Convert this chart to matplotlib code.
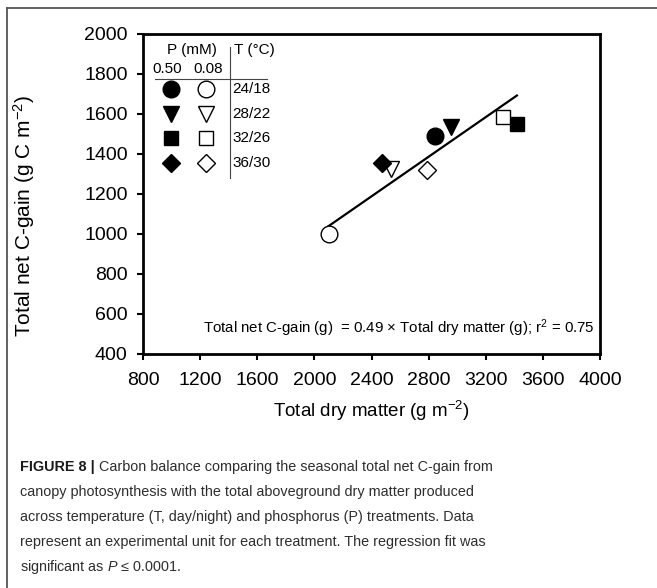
import numpy as np
import matplotlib
matplotlib.use("Agg")
import matplotlib.pyplot as plt
from matplotlib.lines import Line2D
from matplotlib import font_manager

plt.rcParams['font.family'] = ['Liberation Sans', 'DejaVu Sans']
plt.rcParams['mathtext.fontset'] = 'custom'
plt.rcParams['mathtext.rm'] = 'Liberation Sans'
plt.rcParams['mathtext.it'] = 'Liberation Sans:italic'

# treatments: day/night temperature, marker per temperature
temps = ['24/18', '28/22', '32/26', '36/30']
markers = ['o', 'v', 's', 'D']
marker_sizes = [12, 12, 10.5, 9.5]

# P = 0.50 mM (filled)
dm_high = [2845, 2960, 3418, 2472]
cg_high = [1491, 1533, 1550, 1353]
# P = 0.08 mM (open)
dm_low = [2100, 2535, 3324, 2787]
cg_low = [1000, 1326, 1587, 1320]

xticks = [800, 1200, 1600, 2000, 2400, 2800, 3200, 3600, 4000]
yticks = [400, 600, 800, 1000, 1200, 1400, 1600, 1800, 2000]

caption_lines = [
    "Carbon balance comparing the seasonal total net C-gain from",
    "canopy photosynthesis with the total aboveground dry matter produced",
    "across temperature (T, day/night) and phosphorus (P) treatments. Data",
    "represent an experimental unit for each treatment. The regression fit was",
    "significant as $P$ \u2264 0.0001.",
]

W, H = 657, 588
fig = plt.figure(figsize=(W / 100, H / 100), dpi=100)
ax = fig.add_axes([143 / W, 1 - 354 / H, 457 / W, 320 / H])

for i in range(4):
    ax.plot(dm_high[i], cg_high[i], marker=markers[i], ms=marker_sizes[i],
            mfc='black', mec='black', mew=1, ls='none', zorder=3)
    ax.plot(dm_low[i], cg_low[i], marker=markers[i], ms=marker_sizes[i],
            mfc='white', mec='black', mew=1, ls='none', zorder=3)

# regression through the origin
x_all = np.array(dm_high + dm_low, dtype=float)
y_all = np.array(cg_high + cg_low, dtype=float)
slope = np.sum(x_all * y_all) / np.sum(x_all * x_all)
xs = np.array([x_all.min(), x_all.max()])
ax.plot(xs, slope * xs, color='black', lw=1.6, zorder=2)

ax.set_xlim(800, 4000)
ax.set_ylim(400, 2000)
ax.set_xticks(xticks)
ax.set_yticks(yticks)
ax.tick_params(direction='out', length=4, width=1.5, labelsize=14, pad=7)
ax.tick_params(axis='x', pad=9)
for s in ax.spines.values():
    s.set_linewidth(2)
ax.set_xlabel('Total dry matter (g m$^{-2}$)', fontsize=13.5, labelpad=7)
ax.set_ylabel('Total net C-gain (g C m$^{-2}$)', fontsize=15)
ax.yaxis.set_label_coords(-0.232, 0.43)

ax.text(3960, 528, 'Total net C-gain (g)  = 0.49 \u00d7 Total dry matter (g); r$^{2}$ = 0.75',
        ha='right', va='center', fontsize=10.8)

# legend table
lx_fill, lx_open, lx_lab = 996, 1241, 1428
row_y = [1725, 1602, 1478, 1355]
ax.text(1143, 1922, 'P (mM)', ha='center', va='center', fontsize=11)
ax.text(1437, 1922, 'T (\u00b0C)', ha='left', va='center', fontsize=11)
ax.text(968, 1827, '0.50', ha='center', va='center', fontsize=11)
ax.text(1255, 1827, '0.08', ha='center', va='center', fontsize=11)
ax.plot([884, 1669], [1775, 1775], color='#444444', lw=0.8)
ax.plot([1409, 1409], [1935, 1280], color='#444444', lw=0.8)
for i in range(4):
    ax.plot(lx_fill, row_y[i], marker=markers[i], ms=marker_sizes[i],
            mfc='black', mec='black', mew=1, ls='none')
    ax.plot(lx_open, row_y[i], marker=markers[i], ms=marker_sizes[i],
            mfc='white', mec='black', mew=1, ls='none')
    ax.text(lx_lab, row_y[i], temps[i], ha='left', va='center', fontsize=11)

# frame around figure + caption
fig.add_artist(Line2D([7 / W, 7 / W], [0, 1 - 8 / H], transform=fig.transFigure,
                      color='#555555', lw=1.3))
fig.add_artist(Line2D([7 / W, 1], [1 - 8 / H, 1 - 8 / H], transform=fig.transFigure,
                      color='#555555', lw=1.3))

cap_font = 'Liberation Sans'
names = {f.name for f in font_manager.fontManager.ttflist}
cap_size = 10.4
if 'Liberation Sans Narrow' in names:
    cap_font = 'Liberation Sans Narrow'
    cap_size = 12.5

line_y = [467, 492, 517, 542, 567]
bold = fig.text(20 / W, 1 - line_y[0] / H, 'FIGURE 8 | ', fontsize=cap_size,
                fontweight='bold', family=cap_font, color='#1a1a1a',
                ha='left', va='center')
fig.canvas.draw()
bb = bold.get_window_extent(renderer=fig.canvas.get_renderer())
fig.text(bb.x1 / W, 1 - line_y[0] / H, caption_lines[0], fontsize=cap_size,
         family=cap_font, color='#2e2e2e', ha='left', va='center')
for k in range(1, 5):
    fig.text(20 / W, 1 - line_y[k] / H, caption_lines[k], fontsize=cap_size,
             family=cap_font, color='#2e2e2e', ha='left', va='center')

fig.savefig('out.png', dpi=100)
